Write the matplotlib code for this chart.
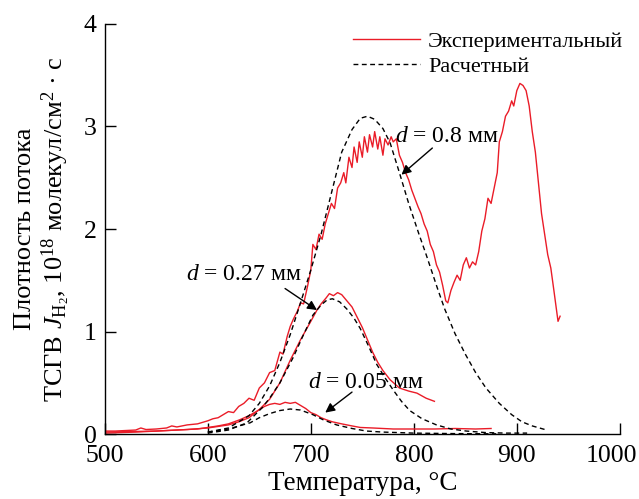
#!/usr/bin/env python3

import matplotlib
matplotlib.use('Agg')
import matplotlib.pyplot as plt
from matplotlib.transforms import ScaledTranslation

plt.rcParams['font.family'] = ['Liberation Serif', 'DejaVu Serif']
plt.rcParams['mathtext.fontset'] = 'custom'
plt.rcParams['mathtext.rm'] = 'Liberation Serif'
plt.rcParams['mathtext.it'] = 'Liberation Serif:italic'

RED = '#ea1c28'

# experimental, d = 0.8 mm
t_exp08 = [500, 510, 520, 530, 535, 540, 550, 560, 565, 570, 580, 590, 600, 605, 610, 615,
           620, 625, 630, 635, 640, 645, 650, 655, 660, 665, 670, 673, 677, 680, 683, 687,
           690, 693, 697, 700, 702, 705, 708, 711, 714, 717, 720, 723, 726, 729, 732, 734,
           737, 740, 742, 745, 747, 750, 752, 755, 757, 760, 762, 765, 767, 770, 772, 775,
           778, 780, 783, 786, 789, 792, 795, 798, 801, 804, 807, 810, 813, 816, 819, 822,
           825, 828, 831, 833, 836, 839, 842, 845, 848, 851, 854, 857, 860, 863, 866, 869,
           872, 875, 878, 881, 883, 886, 889, 892, 895, 897, 900, 903, 906, 909, 912, 915,
           918, 921, 924, 927, 930, 933, 936, 938, 940, 942]
j_exp08 = [0.03, 0.03, 0.035, 0.04, 0.06, 0.045, 0.05, 0.06, 0.08, 0.07, 0.09, 0.10, 0.13, 0.15, 0.16, 0.19,
           0.22, 0.21, 0.27, 0.30, 0.35, 0.33, 0.45, 0.50, 0.60, 0.62, 0.80, 0.78, 0.95, 1.05, 1.12, 1.20,
           1.28, 1.27, 1.45, 1.60, 1.85, 1.80, 1.95, 1.90, 2.05, 2.15, 2.25, 2.20, 2.40, 2.45, 2.55, 2.45,
           2.70, 2.60, 2.80, 2.65, 2.85, 2.70, 2.90, 2.75, 2.92, 2.80, 2.95, 2.78, 2.90, 2.72, 2.88, 2.82,
           2.90, 2.85, 2.88, 2.72, 2.65, 2.55, 2.48, 2.38, 2.30, 2.22, 2.15, 2.05, 1.98, 1.85, 1.78, 1.65,
           1.58, 1.45, 1.30, 1.28, 1.40, 1.48, 1.55, 1.50, 1.65, 1.72, 1.62, 1.68, 1.65, 1.78, 1.98, 2.10,
           2.30, 2.25, 2.40, 2.55, 2.85, 2.95, 3.10, 3.15, 3.25, 3.20, 3.35, 3.42, 3.40, 3.35, 3.20, 2.95,
           2.75, 2.45, 2.15, 1.95, 1.75, 1.62, 1.40, 1.25, 1.10, 1.15]

# experimental, d = 0.27 mm
t_exp027 = [500, 550, 580, 600, 620, 630, 640, 650, 660, 670, 680, 690, 700, 706, 710, 715, 718,
            722, 726, 730, 735, 740, 745, 750, 755, 760, 765, 770, 777, 786, 795, 803, 812, 820]
j_exp027 = [0.02, 0.03, 0.045, 0.06, 0.09, 0.12, 0.16, 0.24, 0.34, 0.50, 0.72, 0.92, 1.10, 1.21, 1.27, 1.33, 1.37,
            1.35, 1.38, 1.36, 1.30, 1.24, 1.14, 1.04, 0.92, 0.80, 0.70, 0.62, 0.53, 0.45, 0.42, 0.40, 0.35, 0.32]

# experimental, d = 0.05 mm
t_exp005 = [500, 530, 560, 590, 610, 620, 631, 640, 647, 655, 660, 665, 670, 675, 680, 685, 690,
            695, 700, 705, 710, 715, 721, 730, 740, 748, 760, 780, 800, 820, 840, 860, 875]
j_exp005 = [0.01, 0.02, 0.035, 0.05, 0.08, 0.10, 0.14, 0.18, 0.22, 0.27, 0.29, 0.30, 0.29, 0.31, 0.30, 0.31, 0.28,
            0.25, 0.21, 0.19, 0.16, 0.14, 0.12, 0.10, 0.08, 0.065, 0.06, 0.05, 0.05, 0.05, 0.055, 0.05, 0.055]

# calculated curves
t_calc08 = [600, 620, 640, 650, 660, 670, 680, 690, 700, 710, 720, 730, 740, 748, 755, 762, 770,
            777, 786, 795, 805, 812, 823, 830, 840, 850, 860, 870, 883, 895, 905, 915, 929]
j_calc08 = [0.02, 0.06, 0.18, 0.30, 0.47, 0.70, 0.97, 1.28, 1.60, 1.95, 2.35, 2.75, 2.97, 3.08, 3.10, 3.07, 2.98,
            2.84, 2.55, 2.25, 1.95, 1.75, 1.42, 1.22, 0.98, 0.78, 0.60, 0.45, 0.30, 0.19, 0.12, 0.08, 0.04]

t_calc027 = [600, 620, 638, 653, 660, 670, 683, 692, 702, 710, 716, 721, 728, 735, 742, 748, 756,
             764, 772, 780, 788, 796, 808, 822, 836, 851, 870, 890, 910]
j_calc027 = [0.01, 0.04, 0.11, 0.26, 0.35, 0.50, 0.75, 0.95, 1.16, 1.26, 1.31, 1.32, 1.29, 1.22, 1.13, 1.03, 0.86,
             0.68, 0.55, 0.43, 0.32, 0.23, 0.15, 0.09, 0.05, 0.03, 0.015, 0.01, 0.01]

t_calc005 = [600, 620, 641, 650, 660, 670, 680, 690, 702, 712, 725, 740, 754, 770, 800, 840, 880]
j_calc005 = [0.02, 0.05, 0.11, 0.16, 0.20, 0.23, 0.245, 0.235, 0.19, 0.14, 0.09, 0.055, 0.03, 0.02, 0.01, 0.005, 0.003]

fig = plt.figure(figsize=(6.39, 4.99), dpi=100)
ax = fig.add_axes([0.164, 0.130, 0.806, 0.822])

ax.plot(t_exp08, j_exp08, color=RED, lw=1.0, label='Экспериментальный')
ax.plot(t_exp027, j_exp027, color=RED, lw=1.0)
ax.plot(t_exp005, j_exp005, color=RED, lw=1.0)
ax.plot(t_calc08, j_calc08, color='black', lw=1.0, ls=(0, (3.5, 2.5)), label='Расчетный')
ax.plot(t_calc027, j_calc027, color='black', lw=1.0, ls=(0, (3.5, 2.5)))
ax.plot(t_calc005, j_calc005, color='black', lw=1.0, ls=(0, (3.5, 2.5)))

ax.set_xlim(500, 1000)
ax.set_ylim(0, 4)
ax.set_xticks([500, 600, 700, 800, 900, 1000])
ax.set_yticks([0, 1, 2, 3, 4])
for s in ['top', 'right']:
	ax.spines[s].set_visible(False)
for s in ['left', 'bottom']:
	ax.spines[s].set_linewidth(1.0)
ax.tick_params(direction='in', length=8, width=1.0, labelsize=18.5)
ax.tick_params(axis='x', pad=8)
ax.tick_params(axis='y', pad=6)
# last x label sits a little left of its tick so it stays inside the figure
last = ax.get_xticklabels()[-1]
last.set_transform(last.get_transform() + ScaledTranslation(-0.08, 0, fig.dpi_scale_trans))

ax.set_xlabel('Температура, °C', fontsize=19.5, labelpad=3)
ax.set_ylabel('Плотность потока\nТСГВ $J_{\\mathrm{H}_2}$, 10$^{18}$ молекул/см$^2$ · с',
              fontsize=19, linespacing=1.15, labelpad=8)

ax.legend(loc='upper right', bbox_to_anchor=(1.045, 1.03), frameon=False, fontsize=16,
          handlelength=3.0, handletextpad=0.35, labelspacing=0.2)

arrow = dict(arrowstyle='-|>', color='black', lw=1.0, mutation_scale=14, shrinkA=0, shrinkB=0)
ax.text(782, 2.90, '$d$ = 0.8 мм', fontsize=17, va='center', ha='left')
ax.annotate('', xy=(788, 2.53), xytext=(818, 2.79), arrowprops=arrow)
ax.text(579, 1.56, '$d$ = 0.27 мм', fontsize=17, va='center', ha='left')
ax.annotate('', xy=(706, 1.21), xytext=(675, 1.42), arrowprops=arrow)
ax.text(697, 0.50, '$d$ = 0.05 мм', fontsize=17, va='center', ha='left')
ax.annotate('', xy=(714, 0.21), xytext=(740, 0.41), arrowprops=arrow)

fig.savefig('out.png', dpi=100)
